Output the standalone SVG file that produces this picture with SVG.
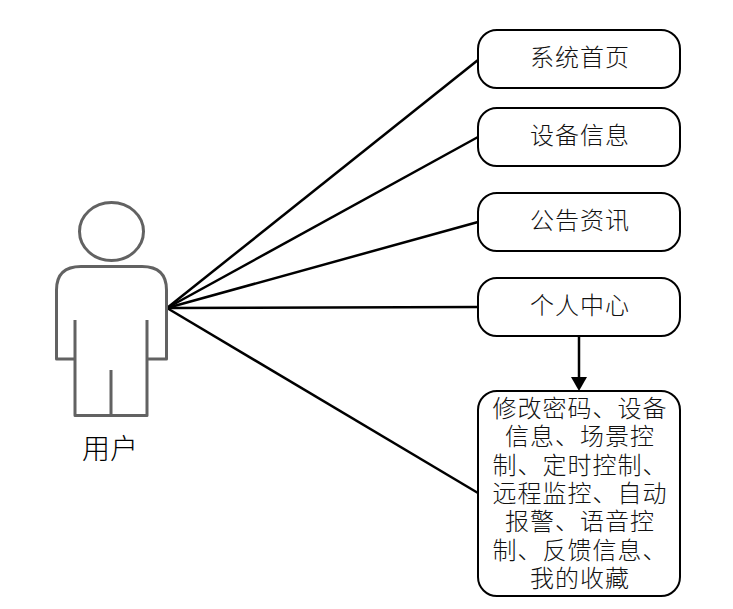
<svg xmlns="http://www.w3.org/2000/svg" width="733" height="609" viewBox="0 0 733 609">
<style>
.box{fill:#fff;stroke:#000;stroke-width:2}
.t{font-family:"Noto Sans CJK SC","Noto Sans",sans-serif;font-size:24px;font-weight:300;fill:#111;text-anchor:middle;letter-spacing:1px}
.c{fill:none;stroke:#000;stroke-width:2.5}
.f{fill:none;stroke:#626262;stroke-width:3;stroke-linejoin:round}
</style>
<defs><marker id="a" viewBox="0 0 16 15" refX="15" refY="8" markerWidth="16" markerHeight="15" markerUnits="userSpaceOnUse" orient="auto"><path d="M0 0L15 8L0 16Z" fill="#000"/></marker></defs>
<rect width="733" height="609" fill="#fff"/>
<g id="connectors">
<path class="c" d="M167 308L478 60"/>
<path class="c" d="M167 308L478 137"/>
<path class="c" d="M167 308L478 222"/>
<path class="c" d="M167 308L478 307"/>
<path class="c" d="M167 308L478 493"/>
<path class="c" d="M579 336V378"/>
<path d="M571 377H587L579 391Z" fill="#000"/>
</g>
<g id="user">
<ellipse class="f" cx="111.500" cy="231.500" rx="32" ry="29"/>
<path class="f" d="M75 320V359H56.500V290Q56.500 266.500 81 266.500H142Q166.500 266.500 166.500 290V359H147V320M75 359V415.500H147V359M111 370V415.500"/>
<text x="110" y="459" style="font-family:'Noto Sans CJK SC','Noto Sans',sans-serif;font-size:28px;font-weight:300;fill:#000;text-anchor:middle">用户</text>
</g>
<g id="n1"><rect class="box" x="478" y="30" width="202" height="58" rx="19"/><text class="t" x="580" y="66">系统首页</text></g>
<g id="n2"><rect class="box" x="478" y="108" width="202" height="58" rx="19"/><text class="t" x="580" y="144">设备信息</text></g>
<g id="n3"><rect class="box" x="478" y="193" width="202" height="58" rx="19"/><text class="t" x="580" y="229">公告资讯</text></g>
<g id="n4"><rect class="box" x="478" y="278" width="202" height="58" rx="19"/><text class="t" x="580" y="314">个人中心</text></g>
<g id="n5"><rect class="box" x="478" y="391" width="202" height="205" rx="19"/>
<text class="t"><tspan x="580" y="417">修改密码、设备</tspan><tspan x="580" y="445">信息、场景控</tspan><tspan x="580" y="474">制、定时控制、</tspan><tspan x="580" y="502">远程监控、自动</tspan><tspan x="580" y="530">报警、语音控</tspan><tspan x="580" y="559">制、反馈信息、</tspan><tspan x="580" y="587">我的收藏</tspan></text>
</g>
</svg>
